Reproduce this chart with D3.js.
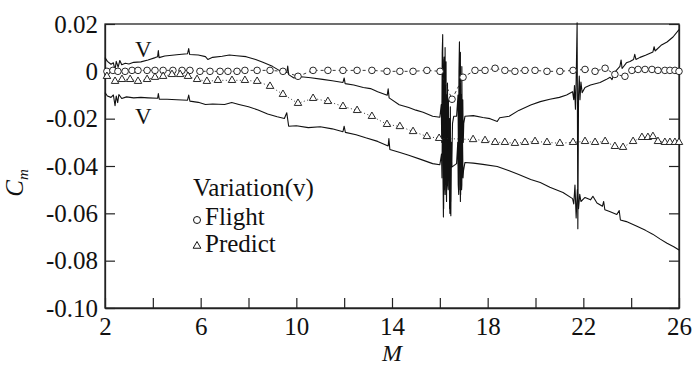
<!DOCTYPE html>
<html>
<head>
<meta charset="utf-8">
<script src="https://cdn.jsdelivr.net/npm/d3@7"></script>
<style>
  body { margin: 0; background: #fff; }
  svg text { font-family: 'Liberation Serif', 'Tinos', 'Times New Roman', 'DejaVu Serif', serif; fill: #111; }
</style>
</head>
<body>
<div id="chart-area"></div>
<script>
// axis ticks
const xTicks = [2, 4, 6, 8, 10, 12, 14, 16, 18, 20, 22, 24, 26];
const xTickLabels = ["2", "", "6", "", "10", "", "14", "", "18", "", "22", "", "26"];
const yTicks = [-0.10, -0.08, -0.06, -0.04, -0.02, 0, 0.02];
const yTickLabels = ["-0.10", "-0.08", "-0.06", "-0.04", "-0.02", "0", "0.02"];

// upper bound of variation (M, Cm)
const upperLine = [
  [2.0, 0.0058], [2.1, 0.0042], [2.25, 0.0030], [2.35, 0.0036], [2.42, 0.0005], [2.47, 0.0042],
  [2.55, 0.0018], [2.62, 0.0046], [2.7, 0.0028], [2.85, 0.0034], [3.0, 0.0031], [3.2, 0.0038],
  [3.5, 0.0040], [3.8, 0.0048], [4.1, 0.0058], [4.2, 0.0062], [4.23, 0.0088], [4.26, 0.0058],
  [4.5, 0.0065], [4.8, 0.0068], [5.1, 0.0071], [5.45, 0.0074], [5.5, 0.0096], [5.54, 0.0071],
  [5.9, 0.0069], [6.2, 0.0062], [6.3, 0.0050], [6.5, 0.0059], [6.9, 0.0064], [7.2, 0.0069],
  [7.5, 0.0066], [7.9, 0.0062], [8.3, 0.0050], [8.6, 0.0038], [9.0, 0.0021], [9.3, 0.0003],
  [9.6, -0.0005], [9.64, 0.0022], [9.68, -0.0014], [9.9, -0.0028], [10.2, -0.0023], [10.6, -0.0027],
  [11.1, -0.0034], [11.5, -0.0040], [11.95, -0.0047], [12.0, -0.0028], [12.04, -0.0052],
  [12.4, -0.0058], [12.8, -0.0068], [13.1, -0.0073], [13.4, -0.0086], [13.8, -0.0101],
  [13.84, -0.0074], [13.88, -0.0112], [14.3, -0.0141], [14.7, -0.0153], [15.0, -0.0164],
  [15.3, -0.0173], [15.7, -0.0190], [16.0, -0.0194],
  [16.06, -0.0140], [16.08, -0.0300], [16.1, 0.0080], [16.12, 0.0155], [16.13, -0.0400],
  [16.15, -0.0615], [16.16, 0.0000], [16.18, 0.0060], [16.19, -0.0500], [16.21, -0.0350],
  [16.22, 0.0100], [16.24, -0.0450], [16.26, 0.0040], [16.27, -0.0400], [16.29, -0.0100],
  [16.3, -0.0480], [16.32, -0.0050], [16.34, -0.0450], [16.36, -0.0120], [16.38, -0.0400],
  [16.4, -0.0200], [16.42, -0.0600], [16.44, -0.0150], [16.46, -0.0610], [16.48, -0.0300],
  [16.5, -0.0400], [16.53, -0.0220], [16.58, -0.0190], [16.7, -0.0190], [16.76, -0.0100],
  [16.78, -0.0400], [16.8, 0.0000], [16.82, 0.0125], [16.84, -0.0500], [16.86, 0.0080],
  [16.87, -0.0520], [16.89, -0.0100], [16.9, -0.0450], [16.92, 0.0020], [16.94, -0.0350],
  [16.96, -0.0120], [16.98, -0.0300], [17.0, -0.0220],
  [17.05, -0.0190], [17.4, -0.0187], [17.8, -0.0195], [18.1, -0.0200], [18.4, -0.0212],
  [18.5, -0.0196], [18.9, -0.0190], [19.3, -0.0165], [19.8, -0.0142], [20.2, -0.0128],
  [20.6, -0.0118], [21.0, -0.0110], [21.3, -0.0100], [21.55, -0.0086], [21.6, -0.0120],
  [21.63, -0.0060], [21.67, -0.0160], [21.7, -0.0040], [21.74, 0.0205], [21.77, -0.0665],
  [21.8, -0.0100], [21.83, -0.0020], [21.86, -0.0120], [21.9, -0.0045], [21.95, -0.0090],
  [22.07, -0.0068], [22.3, -0.0058], [22.7, -0.0047], [22.95, -0.0035], [23.12, -0.0025],
  [23.2, -0.0035], [23.3, -0.0005], [23.53, 0.0021], [23.58, 0.0048], [23.62, 0.0012],
  [23.8, 0.0036], [23.95, 0.0042], [24.1, 0.0050], [24.15, 0.0072], [24.2, 0.0050],
  [24.37, 0.0059], [24.6, 0.0068], [24.91, 0.0082], [24.96, 0.0104], [25.0, 0.0086],
  [25.25, 0.0110], [25.5, 0.0124], [25.75, 0.0145], [26.0, 0.0176]
];

// lower bound of variation (M, Cm)
const lowerLine = [
  [2.0, -0.0090], [2.1, -0.0104], [2.25, -0.0110], [2.35, -0.0100], [2.42, -0.0145], [2.47, -0.0104],
  [2.53, -0.0132], [2.58, -0.0098], [2.7, -0.0115], [2.9, -0.0108], [3.2, -0.0112], [3.5, -0.0110],
  [3.8, -0.0112], [4.2, -0.0114], [4.23, -0.0094], [4.27, -0.0118], [4.6, -0.0118], [5.0, -0.0120],
  [5.45, -0.0122], [5.5, -0.0100], [5.55, -0.0126], [5.9, -0.0131], [6.2, -0.0140], [6.5, -0.0138],
  [7.0, -0.0140], [7.3, -0.0132], [7.6, -0.0140], [8.0, -0.0150], [8.4, -0.0163], [8.8, -0.0180],
  [9.2, -0.0192], [9.5, -0.0199], [9.6, -0.0175], [9.68, -0.0232], [10.0, -0.0230], [10.5, -0.0238],
  [11.0, -0.0234], [11.5, -0.0243], [11.95, -0.0255], [12.0, -0.0232], [12.05, -0.0258],
  [12.5, -0.0268], [12.9, -0.0281], [13.4, -0.0296], [13.84, -0.0315], [13.87, -0.0284],
  [13.91, -0.0330], [14.3, -0.0342], [14.7, -0.0355], [15.2, -0.0372], [15.7, -0.0390], [16.0, -0.0395],
  [16.07, -0.0350], [16.09, -0.0450], [16.11, -0.0150], [16.13, 0.0050], [16.14, -0.0300],
  [16.16, -0.0580], [16.17, -0.0200], [16.19, -0.0100], [16.2, -0.0450], [16.22, -0.0520],
  [16.23, -0.0250], [16.25, -0.0200], [16.27, -0.0500], [16.28, -0.0550], [16.3, -0.0300],
  [16.31, -0.0250], [16.33, -0.0480], [16.35, -0.0500], [16.37, -0.0280], [16.39, -0.0350],
  [16.41, -0.0580], [16.43, -0.0300], [16.45, -0.0550], [16.47, -0.0350], [16.5, -0.0405],
  [16.7, -0.0390], [16.75, -0.0300], [16.77, -0.0480], [16.79, -0.0520], [16.81, -0.0300],
  [16.83, -0.0100], [16.85, -0.0450], [16.86, -0.0550], [16.88, -0.0250], [16.89, -0.0200],
  [16.91, -0.0500], [16.92, -0.0480], [16.94, -0.0250], [16.95, -0.0300], [16.97, -0.0450],
  [16.99, -0.0420], [17.05, -0.0385], [17.4, -0.0388],
  [17.8, -0.0393], [18.4, -0.0402], [18.9, -0.0420], [19.3, -0.0436], [19.8, -0.0457],
  [20.2, -0.0470], [20.6, -0.0490], [21.15, -0.0512], [21.55, -0.0538], [21.6, -0.0560],
  [21.65, -0.0480], [21.7, -0.0620], [21.75, -0.0500], [21.8, -0.0580], [21.85, -0.0520],
  [21.9, -0.0550], [22.07, -0.0533], [22.3, -0.0543], [22.4, -0.0528], [22.57, -0.0556],
  [22.8, -0.0570], [22.85, -0.0550], [22.9, -0.0585], [23.1, -0.0592], [23.4, -0.0605],
  [23.5, -0.0588], [23.55, -0.0628], [23.8, -0.0635], [24.24, -0.0655], [24.6, -0.0672],
  [24.9, -0.0688], [25.2, -0.0708], [25.5, -0.0726], [25.8, -0.0742], [26.0, -0.0755]
];

// flight test variation (circles)
const flightPts = [
  [2.08, 0.0], [2.33, 0.0004], [2.54, 0.0], [2.84, 0.0], [3.13, 0.0004], [3.38, 0.0004],
  [3.76, 0.0004], [4.09, 0.0004], [4.43, 0.0004], [4.84, 0.0004], [5.22, 0.0004], [5.55, 0.0004],
  [5.97, 0.0], [6.39, 0.0], [6.81, 0.0], [7.14, 0.0], [7.52, 0.0], [7.85, 0.0004],
  [8.36, 0.0004], [8.9, 0.0004], [9.44, 0.0], [10.07, -0.0021], [10.7, 0.0004], [11.32, 0.0004],
  [11.95, 0.0004], [12.54, 0.0004], [13.16, 0.0004], [13.79, 0.0], [14.33, 0.0], [14.88, 0.0],
  [15.46, 0.0004], [16.01, 0.0], [16.51, -0.0118], [16.97, -0.0025], [17.47, 0.0004],
  [17.89, 0.0004], [18.31, 0.0013], [18.72, 0.0004], [19.14, 0.0], [19.56, 0.0004],
  [19.98, 0.0004], [20.48, 0.0], [21.02, 0.0], [21.57, 0.0004], [22.07, 0.0008], [22.49, 0.0],
  [22.91, 0.0013], [23.32, -0.0013], [23.74, -0.0021], [24.03, 0.0004], [24.29, 0.0008],
  [24.58, 0.0008], [24.87, 0.0008], [25.12, 0.0004], [25.41, 0.0004], [25.62, 0.0004],
  [25.83, 0.0004], [26.0, 0.0]
];

// predicted variation (triangles)
const predictPts = [
  [2.08, -0.0021], [2.42, -0.0042], [2.71, -0.0034], [3.05, -0.0034], [3.38, -0.0042],
  [3.76, -0.0034], [4.09, -0.0025], [4.43, -0.0021], [4.8, -0.0013], [5.14, -0.0013],
  [5.47, -0.0021], [5.85, -0.0034], [6.26, -0.0042], [6.72, -0.0038], [7.31, -0.0038],
  [7.85, -0.0038], [8.36, -0.0042], [8.9, -0.0063], [9.44, -0.0097], [10.07, -0.0135],
  [10.7, -0.0114], [11.32, -0.0127], [11.95, -0.0148], [12.54, -0.0165], [13.16, -0.0190],
  [13.79, -0.0224], [14.33, -0.0233], [14.88, -0.0254], [15.46, -0.0275], [15.97, -0.0283],
  [17.39, -0.0288], [17.89, -0.0292], [18.31, -0.0300], [18.72, -0.0300], [19.14, -0.0304],
  [19.56, -0.0300], [19.98, -0.0296], [20.48, -0.0300], [21.02, -0.0304], [21.57, -0.0300],
  [22.07, -0.0296], [22.49, -0.0300], [22.91, -0.0296], [23.32, -0.0317], [23.66, -0.0321],
  [24.08, -0.0296], [24.45, -0.0279], [24.7, -0.0279], [24.91, -0.0275], [25.12, -0.0296],
  [25.41, -0.0300], [25.62, -0.0300], [25.83, -0.0300], [26.0, -0.0300]
];

const serif = "'Liberation Serif', 'Tinos', 'Times New Roman', 'DejaVu Serif', serif";
const margins = { top: 24, right: 21, bottom: 65, left: 105 };
const W = 700, H = 373;
const width = W - margins.left - margins.right;
const height = H - margins.top - margins.bottom;

const svg = d3.select('#chart-area')
  .append('svg')
  .attr('width', W)
  .attr('height', H)
  .style('font-family', serif)
  .append('g')
  .attr('transform', `translate(${margins.left}, ${margins.top})`);

const x = d3.scaleLinear().domain([2, 26]).range([0, width]);
const y = d3.scaleLinear().domain([-0.10, 0.02]).range([height, 0]);

// frame
svg.append('rect')
  .attr('width', width)
  .attr('height', height)
  .attr('fill', 'none')
  .attr('stroke', '#222')
  .attr('stroke-width', 1.3);

// bottom axis, ticks pointing in
svg.append('g')
  .attr('class', 'x axis')
  .attr('transform', `translate(0, ${height})`)
  .call(d3.axisBottom(x)
    .tickValues(xTicks)
    .tickSizeInner(-10)
    .tickSizeOuter(0)
    .tickPadding(9)
    .tickFormat((d, i) => xTickLabels[i]));

// left axis
svg.append('g')
  .attr('class', 'y axis')
  .call(d3.axisLeft(y)
    .tickValues(yTicks)
    .tickSizeInner(-10)
    .tickSizeOuter(0)
    .tickPadding(7)
    .tickFormat((d, i) => yTickLabels[i]));

// right axis: ticks only
svg.append('g')
  .attr('class', 'y axis right')
  .attr('transform', `translate(${width}, 0)`)
  .call(d3.axisRight(y)
    .tickValues(yTicks)
    .tickSizeInner(-10)
    .tickSizeOuter(0)
    .tickFormat(''));

svg.selectAll('.axis').attr('font-family', null);
svg.selectAll('.axis path').attr('stroke', '#222').attr('stroke-width', 1.3);
svg.selectAll('.axis line').attr('stroke', '#222').attr('stroke-width', 1.2);
svg.selectAll('.axis text')
  .style('font-family', serif)
  .attr('font-size', '25px')
  .attr('fill', '#111');

// axis labels
svg.append('text')
  .attr('x', x(14))
  .attr('y', height + 53)
  .attr('text-anchor', 'middle')
  .attr('font-size', '24px')
  .attr('font-style', 'italic')
  .text('M');

const yLab = svg.append('text')
  .attr('transform', `translate(${-82}, ${height / 2 + 17}) rotate(-90)`)
  .attr('text-anchor', 'middle')
  .attr('font-size', '25px')
  .attr('font-style', 'italic');
yLab.append('tspan').text('C');
yLab.append('tspan').attr('font-size', '15px').attr('dy', 5).text('m');

const line = d3.line().x(d => x(d[0])).y(d => y(d[1]));

// variation bound curves
[upperLine, lowerLine].forEach(data => {
  svg.append('path')
    .datum(data)
    .attr('fill', 'none')
    .attr('stroke', '#111')
    .attr('stroke-width', 1.1)
    .attr('stroke-linejoin', 'round')
    .attr('d', line);
});

// connectors between markers
svg.append('path')
  .datum(flightPts)
  .attr('fill', 'none')
  .attr('stroke', '#222')
  .attr('stroke-width', 0.9)
  .attr('stroke-dasharray', '3,3')
  .attr('d', line);

svg.append('path')
  .datum(predictPts)
  .attr('fill', 'none')
  .attr('stroke', '#222')
  .attr('stroke-width', 0.9)
  .attr('stroke-dasharray', '1,2.5')
  .attr('d', line);

// markers
svg.selectAll('circle.flight')
  .data(flightPts)
  .enter()
  .append('circle')
  .attr('class', 'flight')
  .attr('cx', d => x(d[0]))
  .attr('cy', d => y(d[1]))
  .attr('r', 3.3)
  .attr('fill', '#fff')
  .attr('stroke', '#111')
  .attr('stroke-width', 0.9);

const tri = d3.symbol(d3.symbolTriangle).size(24);
svg.selectAll('path.predict')
  .data(predictPts)
  .enter()
  .append('path')
  .attr('class', 'predict')
  .attr('transform', d => `translate(${x(d[0])}, ${y(d[1])})`)
  .attr('d', tri)
  .attr('fill', '#fff')
  .attr('stroke', '#111')
  .attr('stroke-width', 0.9);

// "V" marks on the bound curves
svg.append('text')
  .attr('x', x(3.6)).attr('y', 33)
  .attr('text-anchor', 'middle')
  .attr('font-size', '23px')
  .text('V');
svg.append('text')
  .attr('x', x(3.6)).attr('y', 100)
  .attr('text-anchor', 'middle')
  .attr('font-size', '23px')
  .text('V');

// legend
const legend = svg.append('g').attr('transform', `translate(${88}, ${172})`);
legend.append('text').attr('x', 0).attr('y', 0).attr('font-size', '25px').text('Variation(v)');
legend.append('circle')
  .attr('cx', 4).attr('cy', 24).attr('r', 3.5)
  .attr('fill', '#fff').attr('stroke', '#111').attr('stroke-width', 1);
legend.append('text').attr('x', 12).attr('y', 29).attr('font-size', '25px').text('Flight');
legend.append('path')
  .attr('transform', 'translate(4, 50)')
  .attr('d', d3.symbol(d3.symbolTriangle).size(26))
  .attr('fill', '#fff').attr('stroke', '#111').attr('stroke-width', 1);
legend.append('text').attr('x', 12).attr('y', 56).attr('font-size', '25px').text('Predict');
</script>
</body>
</html>
